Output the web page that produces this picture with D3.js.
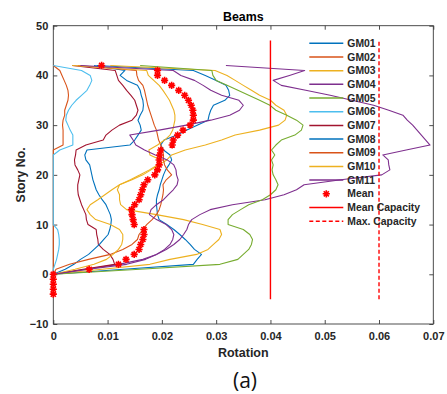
<!DOCTYPE html>
<html>
<head>
<meta charset="utf-8">
<script src="https://cdn.jsdelivr.net/npm/d3@7/dist/d3.min.js"></script>
<style>
  html, body { margin: 0; padding: 0; background: #fff; }
  svg { display: block; }
  text { font-family: "Liberation Sans", Arial, sans-serif; }
</style>
</head>
<body>
<svg id="chart" width="447" height="394"></svg>
<script>
// Story levels for the ground-motion profiles
const stories = d3.range(0, 43);

// Beam rotation per story (stories 0..42) for each ground motion
const gm01 = [0, 0.013, 0.0258, 0.0265, 0.0273, 0.026, 0.0252, 0.0243, 0.0233, 0.0222, 0.0209, 0.0195, 0.0192, 0.0191, 0.019, 0.019, 0.0192, 0.0195, 0.0197, 0.02, 0.0203, 0.0207, 0.0213, 0.0218, 0.0215, 0.0203, 0.0198, 0.0204, 0.0228, 0.0246, 0.0265, 0.0285, 0.0287, 0.029, 0.0295, 0.0316, 0.0325, 0.0323, 0.0318, 0.03, 0.028, 0.0258, 0.008];
const gm02 = [0, 0, 0, 0, 0, 0, 0, 0, 0, 0, 0, 0, 0, 0, 0, 0, 0, 0, 0, 0, 0, 0, 0, 0, 0, 0, 0.0018, 0.0018, 0.0018, 0.0018, 0.0017, 0.0018, 0.0021, 0.0021, 0.0024, 0.0027, 0.0028, 0.0027, 0.0024, 0.002, 0.0016, 0.0012, 0];
const gm03 = [0, 0.009, 0.0178, 0.0215, 0.0264, 0.0285, 0.0295, 0.0305, 0.031, 0.0307, 0.0275, 0.024, 0.019, 0.0135, 0.0124, 0.0122, 0.0122, 0.0118, 0.0122, 0.0145, 0.0165, 0.018, 0.0195, 0.0209, 0.0218, 0.0243, 0.028, 0.031, 0.0335, 0.038, 0.0415, 0.0427, 0.043, 0.0425, 0.041, 0.04, 0.038, 0.0365, 0.035, 0.0335, 0.032, 0.0298, 0.0105];
const gm04 = [0, 0.006, 0.012, 0.0165, 0.019, 0.0208, 0.0222, 0.0233, 0.024, 0.0246, 0.0249, 0.0255, 0.027, 0.0289, 0.033, 0.039, 0.0425, 0.0448, 0.0462, 0.053, 0.0605, 0.062, 0.0618, 0.0617, 0.0607, 0.065, 0.0694, 0.0686, 0.0678, 0.067, 0.0662, 0.0652, 0.0644, 0.0618, 0.059, 0.055, 0.051, 0.0465, 0.042, 0.0405, 0.0435, 0.0463, 0.0318];
const gm05 = [0, 0.016, 0.0307, 0.034, 0.035, 0.036, 0.0365, 0.0367, 0.0362, 0.035, 0.0322, 0.0322, 0.033, 0.0345, 0.036, 0.0385, 0.04, 0.041, 0.0414, 0.041, 0.0405, 0.0403, 0.0405, 0.0402, 0.0408, 0.0402, 0.041, 0.042, 0.0445, 0.0457, 0.046, 0.0448, 0.043, 0.041, 0.0399, 0.038, 0.036, 0.034, 0.032, 0.03, 0.0294, 0.0292, 0.016];
const gm06 = [0, 0, 0.0003, 0.0006, 0.0008, 0.001, 0.0011, 0.0011, 0.001, 0.0008, 0, 0, 0, 0, 0, 0, 0, 0, 0, 0, 0, 0, 0, 0, 0, 0.0012, 0.0036, 0.0036, 0.0036, 0.0031, 0.0027, 0.0023, 0.0024, 0.0028, 0.0034, 0.0042, 0.0052, 0.0062, 0.0067, 0.0071, 0.0068, 0.0052, 0];
const gm07 = [0, 0.0055, 0.0113, 0.011, 0.0104, 0.0092, 0.0083, 0.0082, 0.008, 0.0079, 0.0064, 0.0061, 0.006, 0.0056, 0.0052, 0.0049, 0.0046, 0.0045, 0.0045, 0.0047, 0.0049, 0.0045, 0.004, 0.0039, 0.0041, 0.0042, 0.006, 0.0092, 0.0097, 0.0108, 0.0122, 0.0145, 0.0153, 0.0156, 0.0153, 0.015, 0.0143, 0.0135, 0.0128, 0.012, 0.0117, 0.0114, 0.0035];
const gm08 = [0, 0.0022, 0.0038, 0.005, 0.0065, 0.0075, 0.0085, 0.0093, 0.0101, 0.0104, 0.0106, 0.0107, 0.0105, 0.0101, 0.0097, 0.009, 0.0084, 0.0079, 0.0076, 0.0073, 0.0071, 0.0069, 0.0067, 0.006, 0.0058, 0.0062, 0.0141, 0.015, 0.0156, 0.0162, 0.016, 0.0156, 0.016, 0.0165, 0.0166, 0.0165, 0.0162, 0.016, 0.0155, 0.0135, 0.0123, 0.0132, 0.0075];
const gm09 = [0, 0.0005, 0.003, 0.0065, 0.0105, 0.0128, 0.0145, 0.0155, 0.0158, 0.0165, 0.0172, 0.0182, 0.019, 0.0195, 0.0198, 0.02, 0.0202, 0.0203, 0.0202, 0.0208, 0.0218, 0.021, 0.0205, 0.0203, 0.0203, 0.0201, 0.0198, 0.0194, 0.0192, 0.019, 0.0186, 0.0183, 0.018, 0.0177, 0.0174, 0.0172, 0.017, 0.0168, 0.0165, 0.0157, 0.0154, 0.0153, 0.0045];
const gm10 = [0, 0.004, 0.0075, 0.0098, 0.011, 0.012, 0.0126, 0.0128, 0.0128, 0.0122, 0.0105, 0.0078, 0.0068, 0.0062, 0.0068, 0.0082, 0.0095, 0.0108, 0.0122, 0.0142, 0.016, 0.0177, 0.0192, 0.0198, 0.0178, 0.0176, 0.0192, 0.0205, 0.0215, 0.022, 0.0222, 0.0224, 0.0224, 0.0222, 0.0218, 0.0214, 0.0208, 0.0202, 0.0195, 0.0185, 0.0175, 0.0172, 0.0035];
const gm11 = [0, 0.0065, 0.0135, 0.017, 0.019, 0.0205, 0.0215, 0.022, 0.0222, 0.0218, 0.0208, 0.019, 0.0177, 0.018, 0.019, 0.0203, 0.0212, 0.0221, 0.0228, 0.023, 0.0227, 0.0226, 0.0222, 0.021, 0.0188, 0.0168, 0.0152, 0.0147, 0.0141, 0.0195, 0.0245, 0.029, 0.0325, 0.0343, 0.035, 0.0342, 0.031, 0.029, 0.0276, 0.026, 0.0235, 0.0221, 0.005];

const seriesNames = ["GM01", "GM02", "GM03", "GM04", "GM05", "GM06", "GM07", "GM08", "GM09", "GM10", "GM11"];
const seriesValues = [gm01, gm02, gm03, gm04, gm05, gm06, gm07, gm08, gm09, gm10, gm11];
const seriesColors = ["#0072BD", "#D95319", "#EDB120", "#7E2F8E", "#77AC30", "#4DBEEE", "#A2142F", "#0072BD", "#D95319", "#EDB120", "#7E2F8E"];

// Mean rotation, stories -4..42
const meanStories = d3.range(-4, 43);
const meanValues = [0, 0, 0, 0, 0, 0.0066, 0.012, 0.0134, 0.0149, 0.0158, 0.0161, 0.0165, 0.0167, 0.0167, 0.0149, 0.0147, 0.0145, 0.0144, 0.015, 0.0158, 0.0161, 0.0164, 0.0167, 0.0174, 0.0187, 0.0192, 0.0195, 0.0195, 0.0196, 0.0198, 0.0219, 0.0221, 0.0229, 0.0239, 0.0252, 0.0258, 0.0258, 0.0257, 0.0254, 0.0249, 0.0242, 0.0231, 0.0218, 0.0205, 0.0192, 0.0192, 0.0089];

// Capacity limits and their vertical extent
const meanCapacity = 0.04;
const maxCapacity = 0.06;
const capacitySpan = [-5, 47];

// Axis ticks
const xTicks = [0, 0.01, 0.02, 0.03, 0.04, 0.05, 0.06, 0.07];
const xTickLabels = ["0", "0.01", "0.02", "0.03", "0.04", "0.05", "0.06", "0.07"];
const yTicks = [-10, 0, 10, 20, 30, 40, 50];

const svg = d3.select("#chart");
const plotLeft = 53.3, plotRight = 433.3, plotTop = 25.7, plotBottom = 324;

const x = d3.scaleLinear().domain([0, 0.07]).range([plotLeft, plotRight]);
const y = d3.scaleLinear().domain([-10, 50]).range([plotBottom, plotTop]);

const axisColor = "#3a3a3a";
const textColor = "#262626";

// Plot frame
svg.append("rect")
  .attr("x", plotLeft).attr("y", plotTop)
  .attr("width", plotRight - plotLeft).attr("height", plotBottom - plotTop)
  .attr("fill", "none").attr("stroke", axisColor).attr("stroke-width", 0.9);

// Axes with inward ticks
const xAxis = d3.axisBottom(x).tickValues(xTicks)
  .tickFormat((d, i) => xTickLabels[i]).tickSizeInner(-4).tickSizeOuter(0).tickPadding(8);
const yAxis = d3.axisLeft(y).tickValues(yTicks).tickSizeInner(-4).tickSizeOuter(0).tickPadding(5);

function styleAxis(g) {
  g.select(".domain").remove();
  g.selectAll("line").attr("stroke", axisColor).attr("stroke-width", 0.9);
  g.selectAll("text").attr("fill", textColor)
    .style("font-family", "'Liberation Sans', Arial, sans-serif")
    .style("font-weight", "bold").style("font-size", "11px");
}
svg.append("g").attr("transform", `translate(0,${plotBottom})`).call(xAxis).call(styleAxis);
svg.append("g").attr("transform", `translate(${plotLeft},0)`).call(yAxis).call(styleAxis);
// Mirror ticks on top and right edges
svg.append("g").attr("transform", `translate(0,${plotTop})`)
  .call(d3.axisTop(x).tickValues(xTicks).tickFormat("").tickSizeInner(-4).tickSizeOuter(0))
  .call(styleAxis);
svg.append("g").attr("transform", `translate(${plotRight},0)`)
  .call(d3.axisRight(y).tickValues(yTicks).tickFormat("").tickSizeInner(-4).tickSizeOuter(0))
  .call(styleAxis);

// Ground-motion profiles
const line = d3.line().x(d => x(d[0])).y(d => y(d[1]));
const plot = svg.append("g");
seriesValues.forEach((vals, i) => {
  plot.append("path")
    .datum(vals.map((v, k) => [v, stories[k]]))
    .attr("d", line)
    .attr("fill", "none")
    .attr("stroke", seriesColors[i])
    .attr("stroke-width", 1.1)
    .attr("stroke-linejoin", "round");
});

// Asterisk marker
function asterisk(g, cx, cy, r) {
  const d = r * Math.SQRT1_2;
  const p = d3.path();
  p.moveTo(cx - r, cy); p.lineTo(cx + r, cy);
  p.moveTo(cx, cy - r); p.lineTo(cx, cy + r);
  p.moveTo(cx - d, cy - d); p.lineTo(cx + d, cy + d);
  p.moveTo(cx - d, cy + d); p.lineTo(cx + d, cy - d);
  g.append("path").attr("d", p.toString())
    .attr("stroke", "#FF0000").attr("stroke-width", 1.6).attr("fill", "none");
}
const meanG = svg.append("g");
meanValues.forEach((v, k) => asterisk(meanG, x(v), y(meanStories[k]), 3.6));

// Capacity lines
svg.append("line")
  .attr("x1", x(meanCapacity)).attr("x2", x(meanCapacity))
  .attr("y1", y(capacitySpan[0])).attr("y2", y(capacitySpan[1]))
  .attr("stroke", "#FF0000").attr("stroke-width", 1.4);
svg.append("line")
  .attr("x1", x(maxCapacity)).attr("x2", x(maxCapacity))
  .attr("y1", y(capacitySpan[0])).attr("y2", y(capacitySpan[1]))
  .attr("stroke", "#FF0000").attr("stroke-width", 1.4).attr("stroke-dasharray", "4,2.5");

// Legend
const legendX0 = 309.3, legendX1 = 343.3, legendTextX = 347.3, legendY0 = 43.3, legendStep = 13.68;
const legend = svg.append("g");
const legendItems = seriesNames.map((n, i) => ({ name: n, type: "line", color: seriesColors[i] }))
  .concat([
    { name: "Mean", type: "marker", color: "#FF0000" },
    { name: "Mean Capacity", type: "line", color: "#FF0000" },
    { name: "Max. Capacity", type: "dash", color: "#FF0000" }
  ]);
legendItems.forEach((it, i) => {
  const ly = legendY0 + i * legendStep;
  if (it.type === "marker") {
    asterisk(legend, (legendX0 + legendX1) / 2, ly, 3.6);
  } else {
    legend.append("line")
      .attr("x1", legendX0).attr("x2", legendX1).attr("y1", ly).attr("y2", ly)
      .attr("stroke", it.color).attr("stroke-width", 1.5)
      .attr("stroke-dasharray", it.type === "dash" ? "4,2.5" : null);
  }
  legend.append("text")
    .attr("x", legendTextX).attr("y", ly + 3.7)
    .attr("fill", textColor).style("font-weight", "bold").style("font-size", "10.4px")
    .text(it.name);
});

// Titles and labels
svg.append("text").attr("x", (plotLeft + plotRight) / 2).attr("y", 21)
  .attr("text-anchor", "middle").attr("fill", "#000")
  .style("font-weight", "bold").style("font-size", "12.4px").text("Beams");
svg.append("text").attr("x", (plotLeft + plotRight) / 2).attr("y", 357.2)
  .attr("text-anchor", "middle").attr("fill", textColor)
  .style("font-weight", "bold").style("font-size", "12.5px").text("Rotation");
svg.append("text").attr("transform", `translate(25,${(plotTop + plotBottom) / 2}) rotate(-90)`)
  .attr("text-anchor", "middle").attr("fill", textColor)
  .style("font-weight", "bold").style("font-size", "12.4px").text("Story No.");
svg.append("text").attr("x", 245).attr("y", 388)
  .attr("text-anchor", "middle").attr("fill", "#111")
  .style("font-family", "'Open Sans', 'Noto Sans', sans-serif")
  .style("font-size", "21px").text("(a)");
</script>
</body>
</html>
